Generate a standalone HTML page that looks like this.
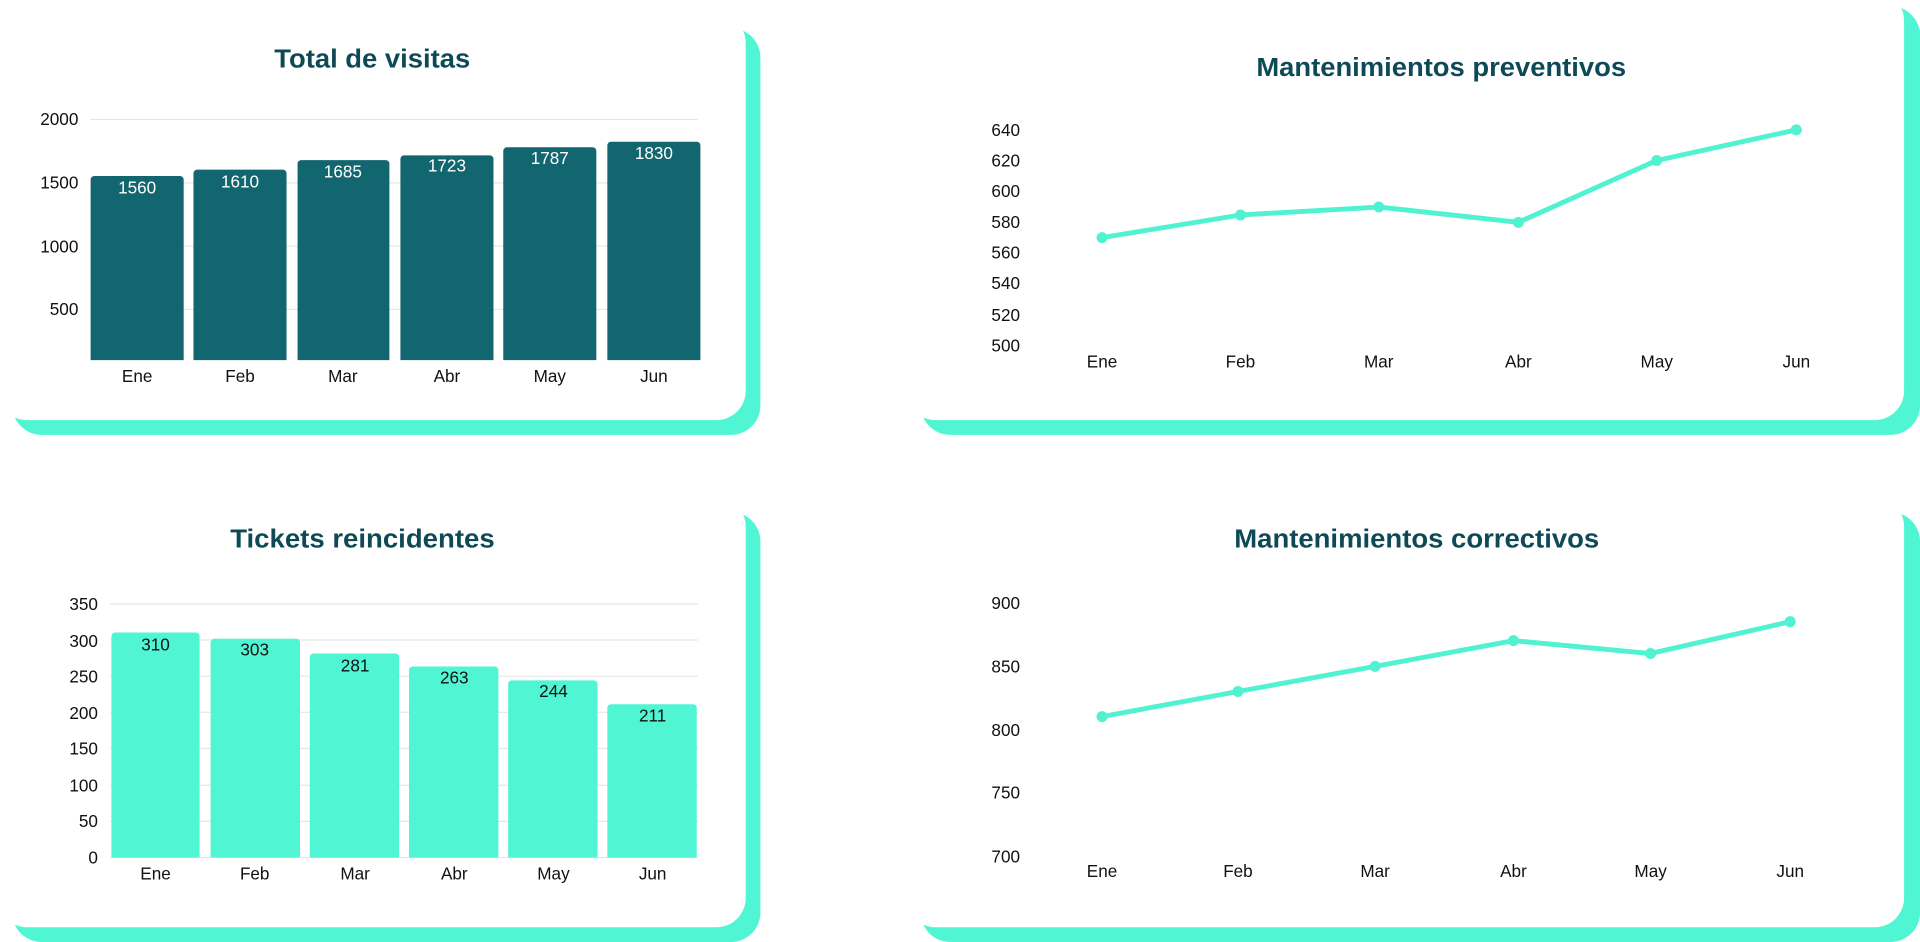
<!DOCTYPE html>
<html><head><meta charset="utf-8"><style>
html,body{margin:0;padding:0;background:#fff;width:1920px;height:942px;overflow:hidden}
svg{display:block}
text{font-family:"Liberation Sans",sans-serif}
.t{font-size:21px;font-weight:bold;fill:#0e4a56}
.ax{font-size:14px;fill:#111}
.g{stroke:#e6e6e6;stroke-width:1}
</style></head><body>
<svg width="1920" height="942" viewBox="0 0 1568 769" preserveAspectRatio="none">
<!-- cards -->
<rect x="10" y="23" width="611" height="332" rx="24" fill="#50f5d3"/>
<rect x="-2" y="11" width="611" height="332" rx="24" fill="#fff"/>
<rect x="752" y="5" width="816" height="350" rx="24" fill="#50f5d3"/>
<rect x="740" y="-7" width="815" height="350" rx="24" fill="#fff"/>
<rect x="10" y="418" width="611" height="351" rx="24" fill="#50f5d3"/>
<rect x="-2" y="406" width="611" height="351" rx="24" fill="#fff"/>
<rect x="752" y="418" width="816" height="351" rx="24" fill="#50f5d3"/>
<rect x="740" y="406" width="815" height="351" rx="24" fill="#fff"/>

<!-- Chart 1 -->
<text class="t" x="304" y="55" text-anchor="middle" textLength="160" lengthAdjust="spacingAndGlyphs">Total de visitas</text>
<g class="g"><line x1="74" x2="570" y1="97.5" y2="97.5"/><line x1="74" x2="570" y1="149.3" y2="149.3"/><line x1="74" x2="570" y1="200.8" y2="200.8"/><line x1="74" x2="570" y1="252.6" y2="252.6"/></g>
<g class="ax" text-anchor="end"><text x="64" y="102">2000</text><text x="64" y="154">1500</text><text x="64" y="206">1000</text><text x="64" y="257">500</text></g>
<g fill="#12666f">
<path d="M74,294V146.7a3,3 0 0 1 3,-3H147a3,3 0 0 1 3,3V294Z"/>
<path d="M158,294V141.5a3,3 0 0 1 3,-3H231a3,3 0 0 1 3,3V294Z"/>
<path d="M243,294V133.7a3,3 0 0 1 3,-3H315a3,3 0 0 1 3,3V294Z"/>
<path d="M327,294V129.8a3,3 0 0 1 3,-3H400a3,3 0 0 1 3,3V294Z"/>
<path d="M411,294V123.2a3,3 0 0 1 3,-3H484a3,3 0 0 1 3,3V294Z"/>
<path d="M496,294V118.7a3,3 0 0 1 3,-3H569a3,3 0 0 1 3,3V294Z"/>
</g>
<g font-size="14" fill="#fff" text-anchor="middle" style="font-family:'Liberation Sans',sans-serif">
<text x="112" y="158">1560</text><text x="196" y="153">1610</text><text x="280" y="145">1685</text><text x="365" y="140">1723</text><text x="449" y="134">1787</text><text x="534" y="130">1830</text></g>
<g class="ax" text-anchor="middle"><text x="112" y="312">Ene</text><text x="196" y="312">Feb</text><text x="280" y="312">Mar</text><text x="365" y="312">Abr</text><text x="449" y="312">May</text><text x="534" y="312">Jun</text></g>

<!-- Chart 2 -->
<text class="t" x="1177" y="62" text-anchor="middle" textLength="302" lengthAdjust="spacingAndGlyphs">Mantenimientos preventivos</text>
<g class="ax" text-anchor="end"><text x="833" y="111">640</text><text x="833" y="136">620</text><text x="833" y="161">600</text><text x="833" y="186">580</text><text x="833" y="211">560</text><text x="833" y="236">540</text><text x="833" y="262">520</text><text x="833" y="287">500</text></g>
<polyline fill="none" stroke="#50f2d2" stroke-width="4" stroke-linejoin="round" points="900,194 1013,175.5 1126,169 1240,181.5 1353,131 1467,106"/>
<g fill="#50f2d2"><circle cx="900" cy="194" r="4.5"/><circle cx="1013" cy="175.5" r="4.5"/><circle cx="1126" cy="169" r="4.5"/><circle cx="1240" cy="181.5" r="4.5"/><circle cx="1353" cy="131" r="4.5"/><circle cx="1467" cy="106" r="4.5"/></g>
<g class="ax" text-anchor="middle"><text x="900" y="300">Ene</text><text x="1013" y="300">Feb</text><text x="1126" y="300">Mar</text><text x="1240" y="300">Abr</text><text x="1353" y="300">May</text><text x="1467" y="300">Jun</text></g>

<!-- Chart 3 -->
<text class="t" x="296" y="447" text-anchor="middle" textLength="216" lengthAdjust="spacingAndGlyphs">Tickets reincidentes</text>
<g class="g"><line x1="90" x2="570" y1="493" y2="493"/><line x1="90" x2="570" y1="522.5" y2="522.5"/><line x1="90" x2="570" y1="552" y2="552"/><line x1="90" x2="570" y1="581.5" y2="581.5"/><line x1="90" x2="570" y1="611" y2="611"/><line x1="90" x2="570" y1="641" y2="641"/><line x1="90" x2="570" y1="670.5" y2="670.5"/><line x1="90" x2="570" y1="700" y2="700"/></g>
<g class="ax" text-anchor="end"><text x="80" y="498">350</text><text x="80" y="528">300</text><text x="80" y="557">250</text><text x="80" y="587">200</text><text x="80" y="616">150</text><text x="80" y="646">100</text><text x="80" y="675">50</text><text x="80" y="705">0</text></g>
<g fill="#50f5d3">
<path d="M91,700V519.3a3,3 0 0 1 3,-3H160a3,3 0 0 1 3,3V700Z"/>
<path d="M172,700V524.4a3,3 0 0 1 3,-3H242a3,3 0 0 1 3,3V700Z"/>
<path d="M253,700V536.5a3,3 0 0 1 3,-3H323a3,3 0 0 1 3,3V700Z"/>
<path d="M334,700V547.1a3,3 0 0 1 3,-3H404a3,3 0 0 1 3,3V700Z"/>
<path d="M415,700V558.4a3,3 0 0 1 3,-3H485a3,3 0 0 1 3,3V700Z"/>
<path d="M496,700V577.9a3,3 0 0 1 3,-3H566a3,3 0 0 1 3,3V700Z"/>
</g>
<g class="ax" text-anchor="middle"><text x="127" y="531">310</text><text x="208" y="535">303</text><text x="290" y="548">281</text><text x="371" y="558">263</text><text x="452" y="569">244</text><text x="533" y="589">211</text></g>
<g class="ax" text-anchor="middle"><text x="127" y="718">Ene</text><text x="208" y="718">Feb</text><text x="290" y="718">Mar</text><text x="371" y="718">Abr</text><text x="452" y="718">May</text><text x="533" y="718">Jun</text></g>

<!-- Chart 4 -->
<text class="t" x="1157" y="447" text-anchor="middle" textLength="298" lengthAdjust="spacingAndGlyphs">Mantenimientos correctivos</text>
<g class="ax" text-anchor="end"><text x="833" y="497">900</text><text x="833" y="549">850</text><text x="833" y="601">800</text><text x="833" y="652">750</text><text x="833" y="704">700</text></g>
<polyline fill="none" stroke="#50f2d2" stroke-width="4" stroke-linejoin="round" points="900,585 1011,564.5 1123,544 1236,523 1348,533.5 1462,507.5"/>
<g fill="#50f2d2"><circle cx="900" cy="585" r="4.5"/><circle cx="1011" cy="564.5" r="4.5"/><circle cx="1123" cy="544" r="4.5"/><circle cx="1236" cy="523" r="4.5"/><circle cx="1348" cy="533.5" r="4.5"/><circle cx="1462" cy="507.5" r="4.5"/></g>
<g class="ax" text-anchor="middle"><text x="900" y="716">Ene</text><text x="1011" y="716">Feb</text><text x="1123" y="716">Mar</text><text x="1236" y="716">Abr</text><text x="1348" y="716">May</text><text x="1462" y="716">Jun</text></g>
</svg>
</body></html>
